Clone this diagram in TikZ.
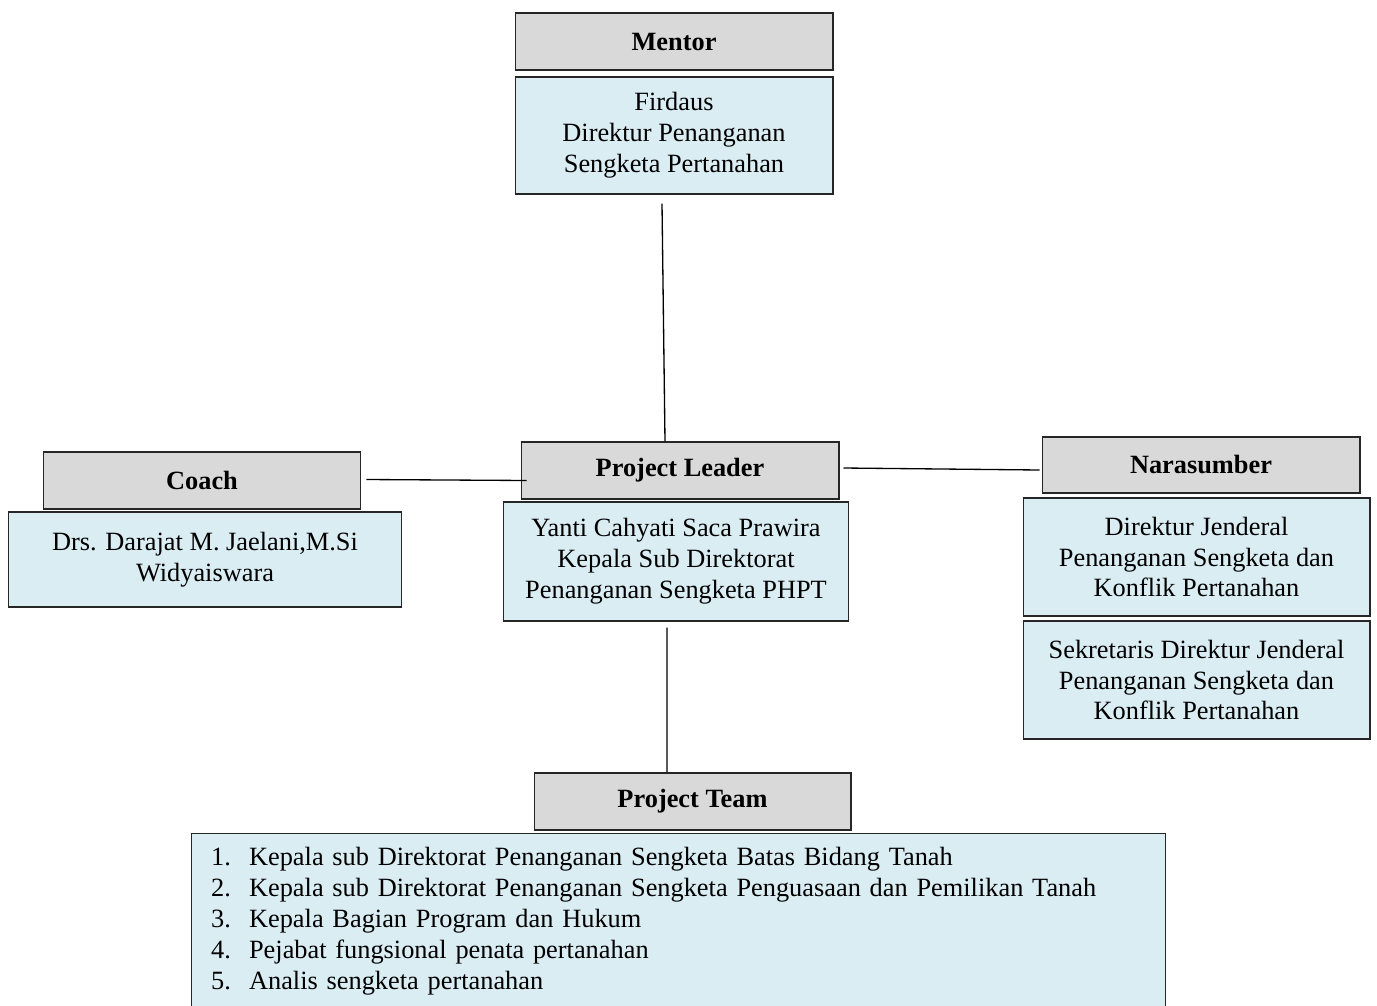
\documentclass[tikz,border=0pt]{standalone}
\usepackage{fontspec}
\setmainfont{Liberation Serif}
\usepackage{xcolor}
\definecolor{headgray}{HTML}{D9D9D9}
\definecolor{bodyblue}{HTML}{DAEDF3}
\tikzset{
  headbox/.style={rectangle,draw=black!85,fill=headgray,line width=0.6pt,
    minimum width=6.36cm,minimum height=1.14cm,inner sep=0pt,
    font=\fontsize{15}{17.6}\selectfont\bfseries},
  bodybox/.style={rectangle,draw=black!85,fill=bodyblue,line width=0.6pt,
    minimum width=6.36cm,inner sep=0pt,align=center,
    font=\fontsize{15}{17.6}\selectfont},
  link/.style={line width=0.75pt,black}
}
\begin{document}
\begin{tikzpicture}[x=0.02cm,y=-0.02cm]
      \useasboundingbox (0,0) rectangle (1377,1005);
      % mentor
      \node[headbox] (mentorhead) at (674,41.5) {Mentor};
      \node[bodybox,minimum height=2.34cm] (mentorbody) at (674,135.5) {Firdaus\\Direktur Penanganan\\Sengketa Pertanahan};
      % project leader
      \node[headbox] (leadhead) at (680,470.5) {Project Leader};
      \node[bodybox,minimum width=6.92cm,minimum height=2.38cm] (leadbody) at (676,561.5) {Yanti Cahyati Saca Prawira\\Kepala Sub Direktorat\\Penanganan Sengketa PHPT};
      % coach
      \node[headbox] (coachhead) at (202,480.5) {Coach};
      \node[bodybox,minimum width=7.88cm,minimum height=1.9cm] (coachbody) at (205,559.5) {Drs. Darajat M. Jaelani,M.Si\\Widyaiswara};
      % narasumber
      \node[headbox,minimum height=1.12cm] (narahead) at (1201,465) {Narasumber};
      \node[bodybox,minimum width=6.94cm,minimum height=2.36cm] (narabodyA) at (1196.5,557) {Direktur Jenderal\\Penanganan Sengketa dan\\Konflik Pertanahan};
      \node[bodybox,minimum width=6.94cm,minimum height=2.36cm] (narabodyB) at (1196.5,680) {Sekretaris Direktur Jenderal\\Penanganan Sengketa dan\\Konflik Pertanahan};
      % project team
      \node[headbox,minimum width=6.34cm] (teamhead) at (692.5,801.5) {Project Team};
      \node[bodybox,text width=18.7cm,inner xsep=0.4cm,minimum height=3.54cm,align=left] (teambody) at (678.5,921.5) {%
        \begin{tabular}{@{}p{0.76cm}@{}l@{}}
          1. & Kepala sub Direktorat Penanganan Sengketa Batas Bidang Tanah\\
          2. & Kepala sub Direktorat Penanganan Sengketa Penguasaan dan Pemilikan Tanah\\
          3. & Kepala Bagian Program dan Hukum\\
          4. & Pejabat fungsional penata pertanahan\\
          5. & Analis sengketa pertanahan
        \end{tabular}};
      % connectors
      \draw[link] ([xshift=-0.24cm,yshift=-0.18cm]mentorbody.south) -- ([xshift=-0.3cm]leadhead.north);
      \draw[link] ([xshift=0.1cm,yshift=0.02cm]coachhead.east) -- ([xshift=0.12cm,yshift=-0.2cm]leadhead.west);
      \draw[link] ([xshift=0.08cm,yshift=0.05cm]leadhead.east) -- ([xshift=-0.04cm,yshift=-0.1cm]narahead.west);
      \draw[link] ([xshift=-0.18cm,yshift=-0.12cm]leadbody.south) -- ([xshift=-0.51cm]teamhead.north);
    \end{tikzpicture}
\end{document}
